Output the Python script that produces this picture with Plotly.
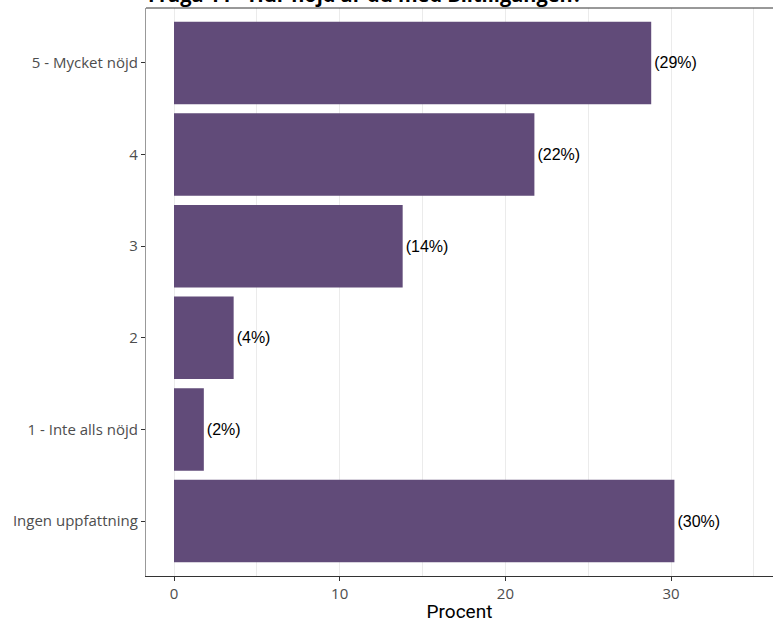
import plotly.graph_objects as go

categories = ["Ingen uppfattning", "1 - Inte alls nöjd", "2", "3", "4", "5 - Mycket nöjd"]
values = [30.2, 1.8, 3.6, 13.8, 21.75, 28.8]
labels = ["(%d%%)" % round(v) for v in values]
title_text = "Fråga 11 - Hur nöjd är du med Biltillgången?"
x_ticks = [0, 10, 20, 30]

fig = go.Figure()
fig.add_trace(go.Bar(
    y=categories, x=values, orientation="h",
    marker=dict(color="#614B79", line=dict(width=0)),
    width=0.9,
    text=labels, textposition="outside", cliponaxis=False,
    textfont=dict(family="Liberation Sans, Arial", size=16, color="black"),
    hoverinfo="skip",
))

fig.update_layout(
    width=773, height=623,
    margin=dict(l=146, r=0, t=8, b=47, autoexpand=False),
    paper_bgcolor="white", plot_bgcolor="white",
    showlegend=False,
    font=dict(family="Open Sans", size=15, color="#4D4D4D"),
    annotations=[dict(
        text="<b>" + title_text + "</b>", xref="paper", yref="paper",
        x=0, y=1, xanchor="left", yanchor="middle", yshift=14, showarrow=False,
        font=dict(family="Open Sans", size=20, color="black"),
    )],
)
fig.update_xaxes(
    automargin=False,
    range=[-1.69, 36.15], tickvals=x_ticks, ticktext=[str(t) for t in x_ticks],
    showgrid=True, gridcolor="#EBEBEB", gridwidth=1,
    minor=dict(tickvals=[5, 15, 25, 35], showgrid=True, gridcolor="#EBEBEB", gridwidth=1),
    showline=True, linecolor="#333333", linewidth=1.2,
    ticks="outside", ticklen=4, tickcolor="#333333",
    zeroline=False,
    tickfont=dict(family="Open Sans", size=15, color="#4D4D4D"),
    title=dict(text="Procent", font=dict(family="Roboto", size=19, color="black"), standoff=4),
)
fig.update_yaxes(
    automargin=False,
    type="category", categoryorder="array", categoryarray=categories,
    range=[-0.6, 5.6],
    showgrid=False, showline=True, linecolor="#999999", linewidth=1.2,
    mirror=False, ticks="outside", ticklen=4, tickcolor="#333333",
    tickfont=dict(family="Open Sans", size=15, color="#4D4D4D"),
)
fig.add_shape(type="line", xref="paper", yref="paper", x0=0, x1=1, y0=1, y1=1,
              line=dict(color="#333333", width=1))

fig.write_html("out.html", config={"displayModeBar": False},
               post_script="document.body.style.margin='0';document.body.style.overflow='hidden';")
